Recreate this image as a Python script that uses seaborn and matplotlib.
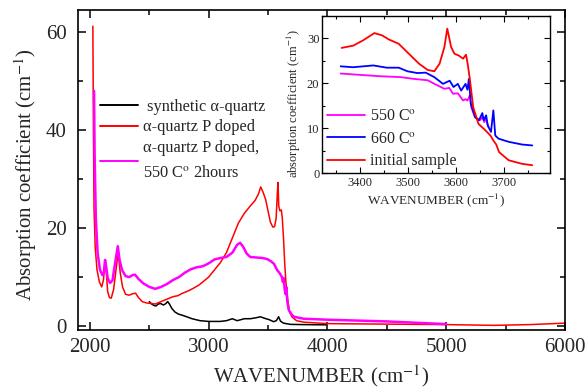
import numpy as np
import pandas as pd
import matplotlib
matplotlib.use("Agg")
import matplotlib.pyplot as plt
from matplotlib.ticker import MultipleLocator
import seaborn as sns

# ---- main spectrum: synthetic alpha-quartz ----
wn_synth = [2500, 2520, 2540, 2557, 2575, 2595, 2620, 2640, 2655, 2670, 2690, 2715,
            2745, 2780, 2815, 2860, 2928, 3000, 3097, 3150, 3200, 3240, 3270, 3300,
            3350, 3400, 3435, 3470, 3510, 3547, 3570, 3589, 3605, 3630, 3688, 3800, 3990]
abs_synth = [5.0, 4.5, 4.2, 4.1, 4.5, 4.6, 4.3, 4.6, 5.0, 4.5, 3.6, 2.9,
             2.45, 2.2, 1.9, 1.5, 1.1, 0.95, 0.95, 1.1, 1.5, 1.1, 1.3, 1.5,
             1.5, 1.7, 1.9, 1.6, 1.3, 0.9, 1.1, 1.9, 1.0, 0.6, 0.35, 0.3, 0.25]

# ---- main spectrum: P doped ----
wn_doped = [2025, 2030, 2035, 2045, 2060, 2080, 2100, 2115, 2127, 2135, 2150, 2165,
            2180, 2200, 2220, 2238, 2255, 2275, 2300, 2330, 2360, 2385, 2410, 2440,
            2480, 2520, 2550, 2580, 2620, 2660, 2700, 2740, 2780, 2830, 2870, 2920,
            2960, 3000, 3050, 3100, 3150, 3200, 3250, 3300, 3350, 3390, 3420, 3438,
            3460, 3480, 3500, 3520, 3540, 3555, 3568, 3578, 3584, 3590, 3600, 3612,
            3620, 3630, 3640, 3650, 3665, 3680, 3700, 3740, 3800, 4000, 4500, 5000,
            5400, 5700, 6000]
abs_doped = [61.2, 40.0, 24.0, 16.0, 11.5, 9.0, 8.0, 9.5, 13.5, 12.0, 7.0, 5.8,
             5.7, 7.5, 11.5, 15.0, 11.0, 8.0, 6.5, 6.3, 6.6, 6.7, 5.8, 5.0,
             4.7, 4.6, 4.5, 4.8, 5.2, 5.6, 6.0, 6.2, 6.7, 7.2, 7.7, 8.4,
             9.2, 10.0, 11.5, 13.0, 15.0, 18.0, 21.0, 23.0, 24.5, 25.6, 27.0, 28.4,
             27.2, 25.8, 23.5, 21.2, 20.2, 20.3, 22.0, 27.0, 29.3, 24.5, 23.5, 23.7,
             22.0, 18.0, 13.0, 9.0, 5.5, 3.0, 1.9, 1.1, 0.8, 0.5, 0.4, 0.3,
             0.15, 0.3, 0.6]

# ---- main spectrum: P doped, annealed 550 C for 2 hours ----
wn_annealed = [2035, 2040, 2050, 2065, 2085, 2105, 2118, 2128, 2138, 2150, 2170, 2190,
               2210, 2235, 2250, 2270, 2300, 2330, 2360, 2380, 2410, 2450, 2500, 2550,
               2600, 2650, 2700, 2750, 2800, 2850, 2900, 2950, 3000, 3050, 3100, 3150,
               3200, 3240, 3265, 3290, 3320, 3350, 3400, 3450, 3490, 3520, 3550, 3575,
               3600, 3617, 3625, 3632, 3640, 3648, 3655, 3662, 3674, 3700, 3720, 3800,
               4000, 4500, 5000]
abs_annealed = [48.0, 35.0, 22.0, 15.0, 11.5, 10.4, 11.0, 13.5, 12.0, 9.8, 8.8, 9.3,
                12.5, 16.3, 13.5, 11.5, 10.2, 10.0, 10.4, 10.5, 9.6, 8.7, 8.0, 7.6,
                8.0, 8.6, 9.4, 10.0, 10.9, 11.6, 12.0, 12.2, 12.8, 13.6, 13.9, 14.1,
                15.0, 16.6, 17.0, 16.2, 14.8, 14.1, 14.0, 13.9, 13.7, 13.3, 12.7, 11.5,
                10.7, 10.0, 9.0, 9.8, 7.5, 6.5, 7.9, 5.0, 3.3, 2.3, 1.9, 1.5,
                1.3, 0.95, 0.4]

# ---- inset: OH region ----
wn_ins_550 = [3360, 3400, 3442, 3485, 3513, 3541, 3559, 3576, 3586, 3594, 3604, 3615,
              3620, 3624, 3629, 3632, 3640, 3650, 3655, 3659, 3663, 3668]
abs_ins_550 = [22.2, 21.9, 21.6, 21.4, 21.0, 20.7, 19.7, 18.8, 19.0, 17.7, 17.8, 16.2,
               16.5, 16.2, 17.3, 14.7, 12.4, 11.8, 12.5, 11.4, 12.1, 10.3]

wn_ins_660 = [3360, 3386, 3428, 3456, 3481, 3499, 3520, 3537, 3555, 3573, 3583, 3587,
              3595, 3604, 3611, 3620, 3624, 3627, 3631, 3640, 3648, 3655, 3658, 3663,
              3666, 3673, 3678, 3682, 3689, 3710, 3738, 3759]
abs_ins_660 = [23.8, 23.6, 24.0, 23.5, 23.5, 22.7, 22.3, 22.4, 21.4, 19.9, 20.4, 20.6,
               19.2, 19.9, 18.4, 19.9, 18.6, 21.0, 15.5, 12.5, 11.8, 13.4, 11.8, 12.9,
               10.7, 9.2, 14.0, 8.4, 7.7, 7.0, 6.4, 6.2]

wn_ins_init = [3362, 3386, 3407, 3430, 3446, 3460, 3481, 3502, 3523, 3541, 3555, 3566,
               3576, 3582, 3590, 3597, 3606, 3615, 3621, 3624, 3629, 3636, 3647, 3661,
               3672, 3678, 3684, 3690, 3710, 3738, 3759]
abs_ins_init = [27.9, 28.4, 29.6, 31.2, 30.7, 29.8, 28.8, 26.6, 24.4, 23.0, 22.7, 24.4,
                28.1, 32.2, 28.1, 26.6, 26.2, 25.5, 26.4, 24.7, 21.0, 14.7, 11.0, 9.6,
                8.4, 7.3, 6.4, 4.7, 2.9, 2.1, 1.8]

main_labels = [" synthetic \u03b1-quartz", "\u03b1-quartz P doped",
               "\u03b1-quartz P doped,\n550 C$^{\\mathrm{o}}$ 2hours"]
inset_labels = ["550 C$^{\\mathrm{o}}$", "660 C$^{\\mathrm{o}}$", "initial sample"]

sns.set_theme(style="ticks")
plt.rcParams["font.family"] = ["Liberation Serif", "DejaVu Serif"]
plt.rcParams["mathtext.fontset"] = "stix"
plt.rcParams["axes.linewidth"] = 1.2

fig = plt.figure(figsize=(5.86, 3.89), dpi=100)
ax = fig.add_axes([78 / 586, 1 - 330 / 389, 487 / 586, 320 / 389])

main_series = [(wn_synth, abs_synth, "black", 1.1),
               (wn_doped, abs_doped, "#ff0000", 1.1),
               (wn_annealed, abs_annealed, "#ff00ff", 1.8)]
for (x, y, c, lw), lab in zip(main_series, main_labels):
    sns.lineplot(x=x, y=y, color=c, linewidth=lw, label=lab, ax=ax,
                 estimator=None, sort=False)

ax.set_xlim(1900, 6000)
ax.set_ylim(-0.8, 64.5)
ax.xaxis.set_major_locator(MultipleLocator(1000))
ax.xaxis.set_minor_locator(MultipleLocator(500))
ax.yaxis.set_major_locator(MultipleLocator(20))
ax.yaxis.set_minor_locator(MultipleLocator(10))
ax.tick_params(which="both", direction="in", top=True, right=True,
               labelsize=15, color="black", width=1.1, pad=6)
ax.tick_params(axis="y", which="both", pad=8)
ax.tick_params(which="major", length=6)
ax.tick_params(which="minor", length=3.5)
ax.set_xlabel("WAVENUMBER (cm$^{-1}$)", fontsize=15, labelpad=4)
ax.set_ylabel("Absorption coefficient (cm$^{-1}$)", fontsize=15)
ax.yaxis.set_label_coords(-0.081, 0.484)
for s in ax.spines.values():
    s.set_color("black")

leg = ax.legend(loc="upper left", bbox_to_anchor=(100 / 586, 1 - 99 / 389),
                bbox_transform=fig.transFigure, frameon=False, fontsize=11.8,
                handlelength=2.3, handletextpad=0.3, labelspacing=0.27,
                borderpad=0, borderaxespad=0)
for t in leg.get_texts():
    t.set_linespacing(1.75)
for h in leg.get_lines():
    h.set_linewidth(1.4)

# ---- inset axes ----
axi = fig.add_axes([321.5 / 586, 1 - 173.3 / 389, 228.5 / 586, 157.3 / 389])
axi.set_facecolor("white")
inset_series = [(wn_ins_550, abs_ins_550, "#ff00ff"),
                (wn_ins_660, abs_ins_660, "#0000ff"),
                (wn_ins_init, abs_ins_init, "#ff0000")]
for (x, y, c), lab in zip(inset_series, inset_labels):
    sns.lineplot(x=x, y=y, color=c, linewidth=1.3, label=lab, ax=axi,
                 estimator=None, sort=False)

axi.set_xlim(3320, 3796)
axi.set_ylim(0, 35)
axi.xaxis.set_major_locator(MultipleLocator(100))
axi.xaxis.set_minor_locator(MultipleLocator(50))
axi.yaxis.set_major_locator(MultipleLocator(10))
axi.yaxis.set_minor_locator(MultipleLocator(5))
axi.tick_params(which="both", direction="in", top=True, right=True,
                labelsize=9, color="black", width=0.8, pad=2.5)
axi.tick_params(axis="y", which="both", pad=1.5)
axi.tick_params(which="major", length=4)
axi.tick_params(which="minor", length=2)
axi.set_xlabel("WAVENUMBER (cm$^{-1}$)", fontsize=9.5, labelpad=2)
axi.set_ylabel("absorption coefficient (cm$^{-1}$)", fontsize=9)
axi.yaxis.set_label_coords(-0.082, 0.444)
for s in axi.spines.values():
    s.set_color("black")
    s.set_linewidth(1.0)

axi.legend(loc="upper left", bbox_to_anchor=(327 / 586, 1 - 108.5 / 389),
           bbox_transform=fig.transFigure, frameon=False, fontsize=11.5,
           handlelength=2.35, handletextpad=0.35, labelspacing=0.4,
           borderpad=0, borderaxespad=0)

fig.savefig("out.png", dpi=100)
